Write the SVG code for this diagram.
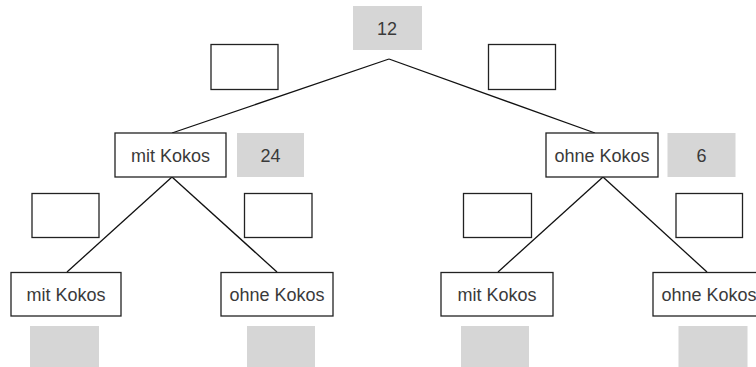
<svg xmlns="http://www.w3.org/2000/svg" width="756" height="367" viewBox="0 0 756 367">
<style>
.box{fill:#fff;stroke:#222;stroke-width:1.3}
.gray{fill:#d6d6d6;stroke:none}
.t{font-family:"Liberation Sans",Arial,sans-serif;font-size:18px;fill:#3a3a3a;text-anchor:middle}
.edge{stroke:#111;stroke-width:1.3;fill:none}
</style>
<rect width="756" height="367" fill="#fff"/>
<g id="connectors">
<line class="edge" x1="389" y1="59" x2="172" y2="133"/>
<line class="edge" x1="389" y1="59" x2="595" y2="133"/>
<line class="edge" x1="172" y1="177" x2="67" y2="272"/>
<line class="edge" x1="172" y1="177" x2="277" y2="272"/>
<line class="edge" x1="603" y1="177" x2="498" y2="272"/>
<line class="edge" x1="603" y1="177" x2="707" y2="272"/>
</g>
<g id="root">
<rect class="gray" x="353" y="6" width="69" height="44"/>
<text class="t" x="387" y="34.5">12</text>
</g>
<g id="p-left"><rect class="box" x="211" y="44.5" width="67" height="45"/></g>
<g id="p-right"><rect class="box" x="488.5" y="44.5" width="67" height="45"/></g>
<g id="n-mit">
<rect class="box" x="115" y="133" width="111" height="44"/>
<text class="t" x="170.5" y="161.5">mit Kokos</text>
</g>
<g id="c-mit">
<rect class="gray" x="237" y="133" width="67" height="44"/>
<text class="t" x="270.5" y="161.5">24</text>
</g>
<g id="n-ohne">
<rect class="box" x="546" y="133" width="112" height="44"/>
<text class="t" x="602" y="161.5">ohne Kokos</text>
</g>
<g id="c-ohne">
<rect class="gray" x="667.5" y="133" width="68" height="44"/>
<text class="t" x="701.5" y="161.5">6</text>
</g>
<g id="p-ll"><rect class="box" x="32" y="193.5" width="67" height="44"/></g>
<g id="p-lr"><rect class="box" x="244.5" y="193.5" width="67.5" height="44"/></g>
<g id="p-rl"><rect class="box" x="463.5" y="193.5" width="68" height="44"/></g>
<g id="p-rr"><rect class="box" x="676" y="193.5" width="66.5" height="44"/></g>
<g id="n-mit-mit">
<rect class="box" x="11" y="272.5" width="110" height="43.5"/>
<text class="t" x="66" y="300.5">mit Kokos</text>
</g>
<g id="n-mit-ohne">
<rect class="box" x="221" y="272.5" width="112" height="43.5"/>
<text class="t" x="277" y="300.5">ohne Kokos</text>
</g>
<g id="n-ohne-mit">
<rect class="box" x="441" y="272.5" width="112" height="43.5"/>
<text class="t" x="497" y="300.5">mit Kokos</text>
</g>
<g id="n-ohne-ohne">
<rect class="box" x="653" y="272.5" width="112" height="43.5"/>
<text class="t" x="709" y="300.5">ohne Kokos</text>
</g>
<g id="c-ll"><rect class="gray" x="30" y="326" width="69" height="41"/></g>
<g id="c-lr"><rect class="gray" x="247" y="326" width="68" height="41"/></g>
<g id="c-rl"><rect class="gray" x="461" y="326" width="68" height="41"/></g>
<g id="c-rr"><rect class="gray" x="678.5" y="326" width="69" height="41"/></g>
</svg>
